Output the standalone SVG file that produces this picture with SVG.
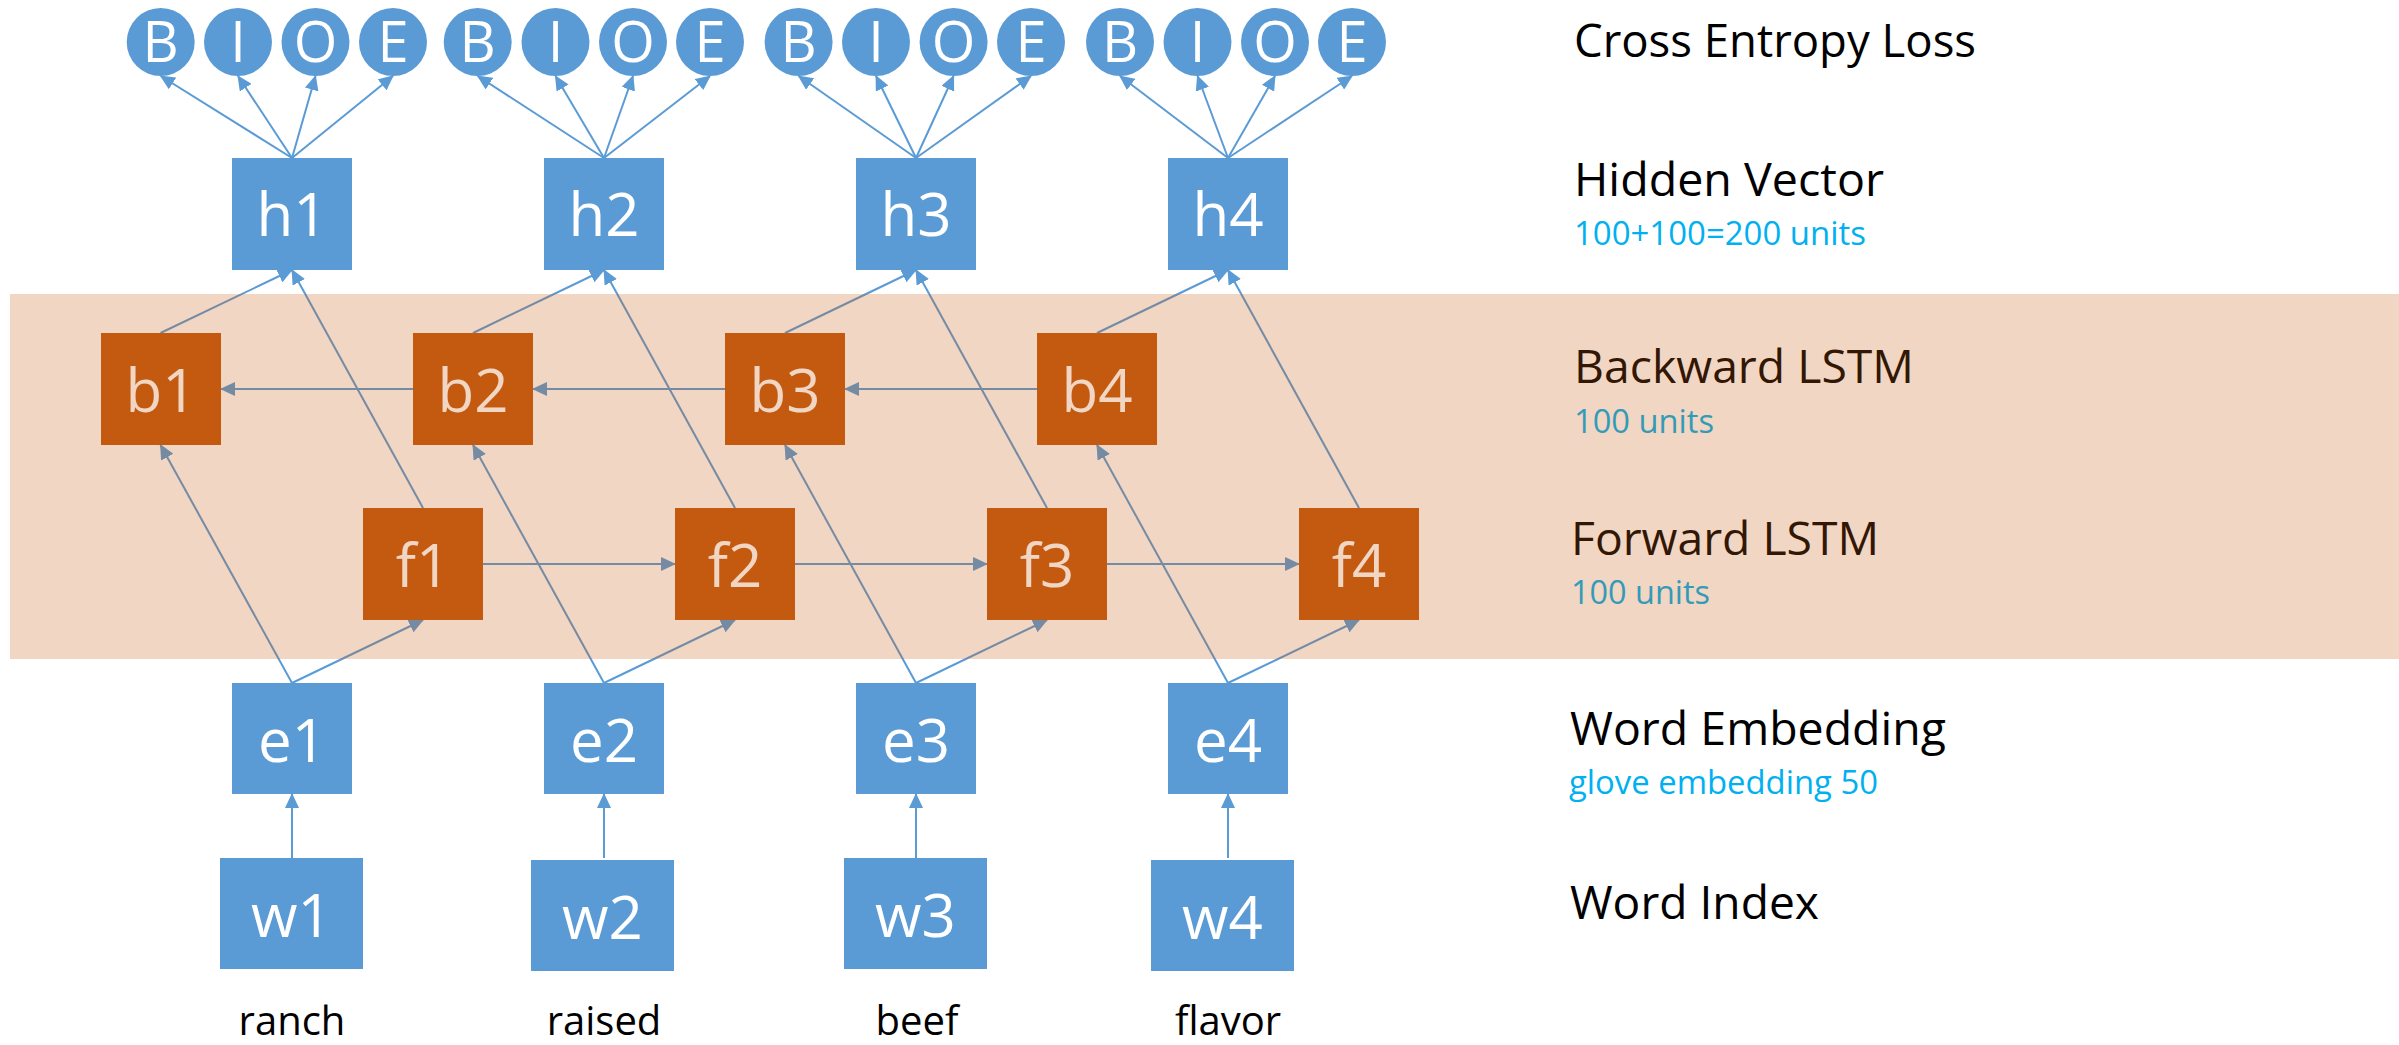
<svg xmlns="http://www.w3.org/2000/svg" width="2399" height="1045" viewBox="0 0 2399 1045">
  <defs>
    <marker id="ah" markerUnits="userSpaceOnUse" markerWidth="15" markerHeight="14" viewBox="0 0 15 14" refX="14" refY="7" orient="auto">
      <path d="M0,0 L15,7 L0,14 z" fill="#5B9BD5"/>
    </marker>
    <style>
      .blue { fill: #5B9BD5; }
      .orange { fill: #C55A11; }
      .in { font-family: "Open Sans", "Liberation Sans", sans-serif; fill: #FFFFFF; text-anchor: middle; font-size: 60px; }
      .tag { font-family: "Open Sans", "Liberation Sans", sans-serif; fill: #FFFFFF; text-anchor: middle; font-size: 56px; }
      .word { font-family: "Open Sans", "Liberation Sans", sans-serif; fill: #000000; text-anchor: middle; font-size: 40px; }
      .layer { font-family: "Open Sans", "Liberation Sans", sans-serif; fill: #000000; font-size: 46px; }
      .note { font-family: "Open Sans", "Liberation Sans", sans-serif; fill: #00B0F0; font-size: 33px; }
      .cn line { stroke: #5B9BD5; stroke-width: 2; fill: none; marker-end: url(#ah); }
    </style>
  </defs>

  <rect width="2399" height="1045" fill="#FFFFFF"/>

  <!-- connectors -->
  <g id="connectors" class="cn">
    <!-- hidden vector to tag outputs -->
    <line x1="292" y1="158" x2="160.7" y2="76"/>
    <line x1="292" y1="158" x2="238" y2="76"/>
    <line x1="292" y1="158" x2="315.5" y2="76"/>
    <line x1="292" y1="158" x2="393" y2="76"/>
    <line x1="604" y1="158" x2="477.7" y2="76"/>
    <line x1="604" y1="158" x2="555.5" y2="76"/>
    <line x1="604" y1="158" x2="633" y2="76"/>
    <line x1="604" y1="158" x2="710" y2="76"/>
    <line x1="916" y1="158" x2="798.6" y2="76"/>
    <line x1="916" y1="158" x2="876" y2="76"/>
    <line x1="916" y1="158" x2="953.6" y2="76"/>
    <line x1="916" y1="158" x2="1031" y2="76"/>
    <line x1="1228" y1="158" x2="1120" y2="76"/>
    <line x1="1228" y1="158" x2="1197.5" y2="76"/>
    <line x1="1228" y1="158" x2="1275" y2="76"/>
    <line x1="1228" y1="158" x2="1352" y2="76"/>
    <!-- backward states to hidden vector -->
    <line x1="160.5" y1="333" x2="292" y2="270"/>
    <line x1="473" y1="333" x2="604" y2="270"/>
    <line x1="785" y1="333" x2="916" y2="270"/>
    <line x1="1097" y1="333" x2="1228" y2="270"/>
    <!-- forward states to hidden vector -->
    <line x1="423" y1="508" x2="292" y2="270"/>
    <line x1="735" y1="508" x2="604" y2="270"/>
    <line x1="1047" y1="508" x2="916" y2="270"/>
    <line x1="1359" y1="508" x2="1228" y2="270"/>
    <!-- embeddings to backward states -->
    <line x1="292" y1="683" x2="160.5" y2="445"/>
    <line x1="604" y1="683" x2="473" y2="445"/>
    <line x1="916" y1="683" x2="785" y2="445"/>
    <line x1="1228" y1="683" x2="1097" y2="445"/>
    <!-- embeddings to forward states -->
    <line x1="292" y1="683" x2="423" y2="620"/>
    <line x1="604" y1="683" x2="735" y2="620"/>
    <line x1="916" y1="683" x2="1047" y2="620"/>
    <line x1="1228" y1="683" x2="1359" y2="620"/>
    <!-- backward recurrence -->
    <line x1="413" y1="389" x2="221" y2="389"/>
    <line x1="725" y1="389" x2="533" y2="389"/>
    <line x1="1037" y1="389" x2="845" y2="389"/>
    <!-- forward recurrence -->
    <line x1="483" y1="564" x2="675" y2="564"/>
    <line x1="795" y1="564" x2="987" y2="564"/>
    <line x1="1107" y1="564" x2="1299" y2="564"/>
    <!-- word index to embedding -->
    <line x1="292" y1="858" x2="292" y2="794"/>
    <line x1="604" y1="858" x2="604" y2="794"/>
    <line x1="916" y1="858" x2="916" y2="794"/>
    <line x1="1228" y1="858" x2="1228" y2="794"/>
  </g>

  <!-- tag outputs -->
  <g id="tags1">
    <circle class="blue" cx="160.7" cy="42" r="34"/><text class="tag" x="160.7" y="62">B</text>
    <circle class="blue" cx="238" cy="42" r="34"/><text class="tag" x="238" y="62">I</text>
    <circle class="blue" cx="315.5" cy="42" r="34"/><text class="tag" x="315.5" y="62">O</text>
    <circle class="blue" cx="393" cy="42" r="34"/><text class="tag" x="393" y="62">E</text>
  </g>
  <g id="tags2">
    <circle class="blue" cx="477.7" cy="42" r="34"/><text class="tag" x="477.7" y="62">B</text>
    <circle class="blue" cx="555.5" cy="42" r="34"/><text class="tag" x="555.5" y="62">I</text>
    <circle class="blue" cx="633" cy="42" r="34"/><text class="tag" x="633" y="62">O</text>
    <circle class="blue" cx="710" cy="42" r="34"/><text class="tag" x="710" y="62">E</text>
  </g>
  <g id="tags3">
    <circle class="blue" cx="798.6" cy="42" r="34"/><text class="tag" x="798.6" y="62">B</text>
    <circle class="blue" cx="876" cy="42" r="34"/><text class="tag" x="876" y="62">I</text>
    <circle class="blue" cx="953.6" cy="42" r="34"/><text class="tag" x="953.6" y="62">O</text>
    <circle class="blue" cx="1031" cy="42" r="34"/><text class="tag" x="1031" y="62">E</text>
  </g>
  <g id="tags4">
    <circle class="blue" cx="1120" cy="42" r="34"/><text class="tag" x="1120" y="62">B</text>
    <circle class="blue" cx="1197.5" cy="42" r="34"/><text class="tag" x="1197.5" y="62">I</text>
    <circle class="blue" cx="1275" cy="42" r="34"/><text class="tag" x="1275" y="62">O</text>
    <circle class="blue" cx="1352" cy="42" r="34"/><text class="tag" x="1352" y="62">E</text>
  </g>

  <!-- hidden vectors -->
  <g id="h1"><rect class="blue" x="232" y="158" width="120" height="112"/><text class="in" x="292" y="236">h1</text></g>
  <g id="h2"><rect class="blue" x="544" y="158" width="120" height="112"/><text class="in" x="604" y="236">h2</text></g>
  <g id="h3"><rect class="blue" x="856" y="158" width="120" height="112"/><text class="in" x="916" y="236">h3</text></g>
  <g id="h4"><rect class="blue" x="1168" y="158" width="120" height="112"/><text class="in" x="1228" y="236">h4</text></g>

  <!-- backward LSTM -->
  <g id="b1"><rect class="orange" x="101" y="333" width="120" height="112"/><text class="in" x="161" y="412">b1</text></g>
  <g id="b2"><rect class="orange" x="413" y="333" width="120" height="112"/><text class="in" x="473" y="412">b2</text></g>
  <g id="b3"><rect class="orange" x="725" y="333" width="120" height="112"/><text class="in" x="785" y="412">b3</text></g>
  <g id="b4"><rect class="orange" x="1037" y="333" width="120" height="112"/><text class="in" x="1097" y="412">b4</text></g>

  <!-- forward LSTM -->
  <g id="f1"><rect class="orange" x="363" y="508" width="120" height="112"/><text class="in" x="423" y="587">f1</text></g>
  <g id="f2"><rect class="orange" x="675" y="508" width="120" height="112"/><text class="in" x="735" y="587">f2</text></g>
  <g id="f3"><rect class="orange" x="987" y="508" width="120" height="112"/><text class="in" x="1047" y="587">f3</text></g>
  <g id="f4"><rect class="orange" x="1299" y="508" width="120" height="112"/><text class="in" x="1359" y="587">f4</text></g>

  <!-- word embeddings -->
  <g id="e1"><rect class="blue" x="232" y="683" width="120" height="111"/><text class="in" x="292" y="762">e1</text></g>
  <g id="e2"><rect class="blue" x="544" y="683" width="120" height="111"/><text class="in" x="604" y="762">e2</text></g>
  <g id="e3"><rect class="blue" x="856" y="683" width="120" height="111"/><text class="in" x="916" y="762">e3</text></g>
  <g id="e4"><rect class="blue" x="1168" y="683" width="120" height="111"/><text class="in" x="1228" y="762">e4</text></g>

  <!-- word indices -->
  <g id="w1"><rect class="blue" x="220" y="858" width="143" height="111"/><text class="in" x="291.5" y="937">w1</text></g>
  <g id="w2"><rect class="blue" x="531" y="860" width="143" height="111"/><text class="in" x="602.5" y="939">w2</text></g>
  <g id="w3"><rect class="blue" x="844" y="858" width="143" height="111"/><text class="in" x="915.5" y="937">w3</text></g>
  <g id="w4"><rect class="blue" x="1151" y="860" width="143" height="111"/><text class="in" x="1222.5" y="939">w4</text></g>

  <!-- input words -->
  <g id="words">
    <text class="word" x="292" y="1035">ranch</text>
    <text class="word" x="604" y="1035">raised</text>
    <text class="word" x="917" y="1035">beef</text>
    <text class="word" x="1228" y="1035">flavor</text>
  </g>

  <!-- layer captions -->
  <g id="captions">
    <text class="layer" x="1574" y="57" textLength="402" lengthAdjust="spacingAndGlyphs">Cross Entropy Loss</text>
    <text class="layer" x="1574" y="196" textLength="310" lengthAdjust="spacingAndGlyphs">Hidden Vector</text>
    <text class="note" x="1574" y="245" textLength="292" lengthAdjust="spacingAndGlyphs">100+100=200 units</text>
    <text class="layer" x="1574" y="383" textLength="340" lengthAdjust="spacingAndGlyphs">Backward LSTM</text>
    <text class="note" x="1574" y="433" textLength="140" lengthAdjust="spacingAndGlyphs">100 units</text>
    <text class="layer" x="1571" y="555" textLength="308" lengthAdjust="spacingAndGlyphs">Forward LSTM</text>
    <text class="note" x="1571" y="604" textLength="139" lengthAdjust="spacingAndGlyphs">100 units</text>
    <text class="layer" x="1570" y="745" textLength="376" lengthAdjust="spacingAndGlyphs">Word Embedding</text>
    <text class="note" x="1569" y="794" textLength="309" lengthAdjust="spacingAndGlyphs">glove embedding 50</text>
    <text class="layer" x="1570" y="919" textLength="249" lengthAdjust="spacingAndGlyphs">Word Index</text>
  </g>

  <!-- translucent LSTM band laid over the recurrent layers -->
  <rect id="lstm-band" x="10" y="294" width="2389" height="365" fill="#C55A11" fill-opacity="0.25"/>
</svg>
